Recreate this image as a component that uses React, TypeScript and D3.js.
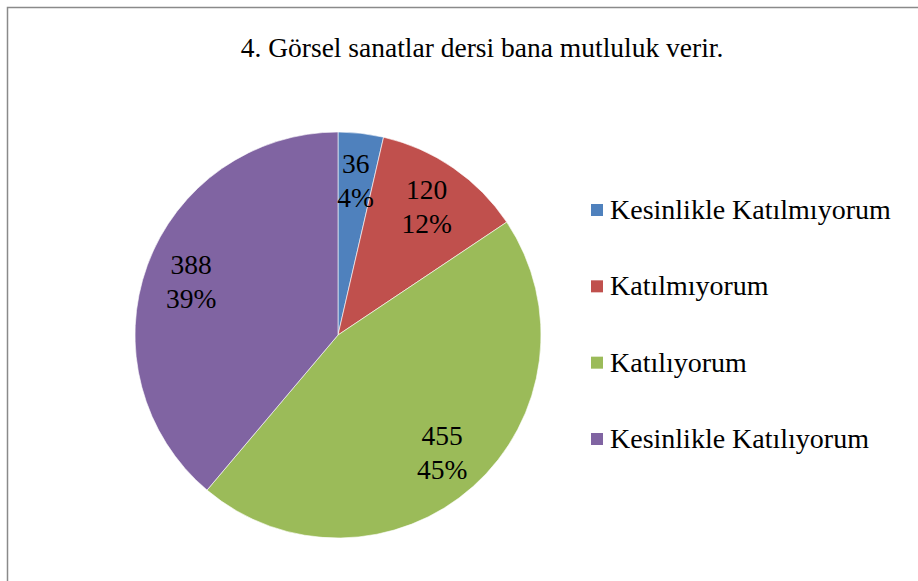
import React from "react";
import * as d3 from "d3";

const categories = [
  "Kesinlikle Katılmıyorum",
  "Katılmıyorum",
  "Katılıyorum",
  "Kesinlikle Katılıyorum",
];
const counts = [36, 120, 455, 388];
// percentages as printed on the chart
const percents = ["4%", "12%", "45%", "39%"];
const colors = ["#4F81BD", "#C0504D", "#9BBB59", "#8064A2"];
const title = "4. Görsel sanatlar dersi bana mutluluk verir.";

const W = 918;
const H = 581;
const cx = 338;
const cy = 335;
const R = 203;
const FONT = "Liberation Serif";

export default function App() {
  const pie = d3
    .pie<number>()
    .sort(null)
    .startAngle(0)
    .endAngle(2 * Math.PI);
  const arcs = pie(counts);
  const arc = d3.arc<d3.PieArcDatum<number>>().innerRadius(0).outerRadius(R);
  const labelArc = d3
    .arc<d3.PieArcDatum<number>>()
    .innerRadius(R * 0.77)
    .outerRadius(R * 0.77);

  const legendY = d3.scalePoint<string>().domain(categories).range([211, 440]);

  return (
    <svg width={W} height={H} style={{ position: "absolute", left: 0, top: 0 }}>
      <rect x={0} y={0} width={W} height={H} fill="#fff" />
      <rect x={7.5} y={7.5} width={W + 10} height={H + 10} fill="none" stroke="#8a8a8a" strokeWidth={1.5} />
      <text x={482} y={57} textAnchor="middle" fontSize={27.5} fontFamily={FONT} fill="#000">
        {title}
      </text>
      <g transform={`translate(${cx},${cy})`}>
        {arcs.map((a, i) => (
          <path key={i} d={arc(a) ?? ""} fill={colors[i]} stroke="#fff" strokeWidth={0.6} />
        ))}
        {arcs.map((a, i) => {
          const [x, y] = labelArc.centroid(a);
          return (
            <text key={i} x={x} y={y} textAnchor="middle" fontSize={27.5} fontFamily={FONT} fill="#000">
              <tspan x={x} dy={-7}>{counts[i]}</tspan>
              <tspan x={x} dy={34}>{percents[i]}</tspan>
            </text>
          );
        })}
      </g>
      {categories.map((c, i) => {
        const y = legendY(c) ?? 0;
        return (
          <g key={c}>
            <rect x={591} y={y - 7} width={12} height={12} fill={colors[i]} />
            <text x={610} y={y + 8} fontSize={28} fontFamily={FONT} fill="#000">
              {c}
            </text>
          </g>
        );
      })}
    </svg>
  );
}
